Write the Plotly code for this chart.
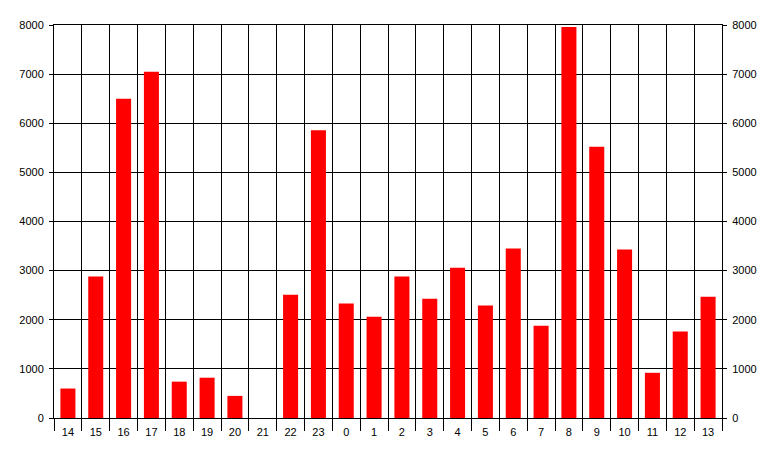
import plotly.graph_objects as go

hours = ["14", "15", "16", "17", "18", "19", "20", "21", "22", "23",
         "0", "1", "2", "3", "4", "5", "6", "7", "8", "9", "10", "11", "12", "13"]
counts = [600, 2880, 6500, 7050, 740, 820, 450, 0, 2510, 5860,
          2330, 2060, 2880, 2430, 3060, 2290, 3450, 1880, 7960, 5520, 3430, 920, 1760, 2470]
y_ticks = [0, 1000, 2000, 3000, 4000, 5000, 6000, 7000, 8000]

fig = go.Figure()
fig.add_trace(go.Bar(x=hours, y=counts, marker=dict(color="#FF0000", line=dict(width=0)),
                     hoverinfo="x+y"))
# invisible trace to drive the right axis
fig.add_trace(go.Bar(x=hours, y=counts, yaxis="y2", marker=dict(opacity=0),
                     hoverinfo="skip", showlegend=False))

axis_font = dict(family="Liberation Sans, Arial, sans-serif", size=11, color="black")

fig.update_layout(
    width=777, height=457,
    margin=dict(l=54, r=55, t=25, b=39),
    paper_bgcolor="white", plot_bgcolor="white",
    showlegend=False,
    barmode="overlay",
    bargap=0.46,
    font=axis_font,
    xaxis=dict(type="category", range=[-0.5, 23.5], tickson="boundaries", ticks="outside",
               ticklen=12, tickcolor="black", tickwidth=1, showgrid=True, gridcolor="black",
               gridwidth=1, showline=True, linecolor="black", linewidth=1, mirror=True,
               tickfont=axis_font, ticklabelstandoff=4, automargin=False),
    yaxis=dict(range=[0, 8000], tickvals=y_ticks, ticks="outside", ticklen=4,
               tickcolor="black", showgrid=True, gridcolor="black", gridwidth=1,
               showline=True, linecolor="black", linewidth=1, zeroline=False,
               tickfont=axis_font, ticklabelstandoff=3, automargin=False),
    yaxis2=dict(range=[0, 8000], tickvals=y_ticks, ticks="outside", ticklen=4,
                tickcolor="black", overlaying="y", side="right", showgrid=False,
                showline=True, linecolor="black", linewidth=1, zeroline=False,
                tickfont=axis_font, ticklabelstandoff=3, automargin=False),
)

fig.write_html("out.html", config={"displayModeBar": False},
               post_script="document.body.style.margin='0';")
